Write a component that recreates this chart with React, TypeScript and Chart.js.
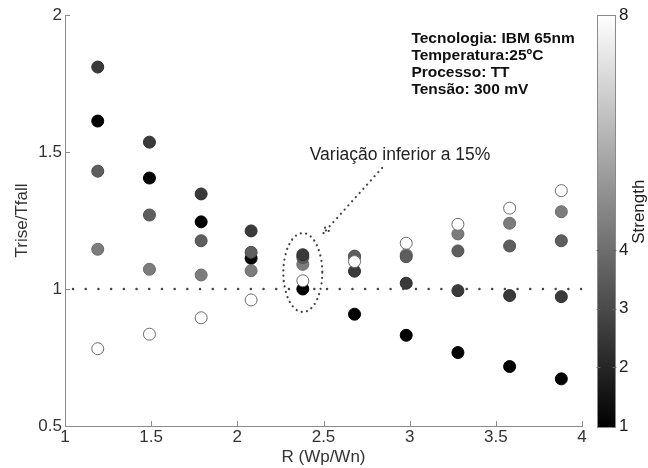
import React, { useEffect, useRef } from "react";
import { Chart, registerables } from "chart.js";

Chart.register(...registerables);

// ---------- data ----------
const rValues = [1.19, 1.49, 1.79, 2.08, 2.38, 2.68, 2.98, 3.28, 3.58, 3.88];
const ratioStrength1 = [1.613, 1.405, 1.245, 1.112, 1.0, 0.908, 0.831, 0.768, 0.717, 0.672];
const ratioStrength2 = [1.81, 1.536, 1.347, 1.212, 1.125, 1.065, 1.021, 0.994, 0.976, 0.972];
const ratioStrength3 = [1.43, 1.27, 1.176, 1.134, 1.115, 1.12, 1.118, 1.139, 1.157, 1.176];
const ratioStrength4 = [1.145, 1.072, 1.051, 1.067, 1.09, 1.115, 1.125, 1.201, 1.24, 1.282];
const ratioStrength8 = [0.782, 0.835, 0.895, 0.96, 1.03, 1.1, 1.167, 1.236, 1.295, 1.359];
const xTicks = [1, 1.5, 2, 2.5, 3, 3.5, 4];
const yTicks = [0.5, 1, 1.5, 2];
const strengthTicks = [1, 2, 3, 4, 8];
const referenceRatio = 1;
const infoLines = ["Tecnologia: IBM 65nm", "Temperatura:25ºC", "Processo: TT", "Tensão: 300 mV"];
const noteText = "Variação inferior a 15%";

const FONT = "'Liberation Sans', Arial, sans-serif";

const strengthColor: Record<number, string> = {
  1: "#000000",
  2: "#3a3a3a",
  3: "#5e5e5e",
  4: "#7c7c7c",
  8: "#ffffff",
};
const strengthBorder: Record<number, string> = {
  1: "#000000",
  2: "#2e2e2e",
  3: "#4e4e4e",
  4: "#6a6a6a",
  8: "#6a6a6a",
};

// draw order (later = on top)
const seriesList: { strength: number; values: number[] }[] = [
  { strength: 8, values: ratioStrength8 },
  { strength: 2, values: ratioStrength2 },
  { strength: 3, values: ratioStrength3 },
  { strength: 4, values: ratioStrength4 },
  { strength: 1, values: ratioStrength1 },
];

const decorPlugin = {
  id: "decor",
  beforeDatasetsDraw(chart: any) {
    const { ctx, chartArea } = chart;
    const xs = chart.scales.x;
    const ys = chart.scales.y;
    ctx.save();
    // inward ticks
    ctx.strokeStyle = "#8a8a8a";
    ctx.lineWidth = 1;
    ctx.beginPath();
    for (const v of xTicks) {
      const px = Math.round(xs.getPixelForValue(v)) + 0.5;
      ctx.moveTo(px, chartArea.bottom);
      ctx.lineTo(px, chartArea.bottom - 5);
    }
    for (const v of yTicks) {
      const py = Math.round(ys.getPixelForValue(v)) + 0.5;
      ctx.moveTo(chartArea.left, py);
      ctx.lineTo(chartArea.left + 5, py);
    }
    ctx.stroke();
    // dotted reference line
    const yRef = ys.getPixelForValue(referenceRatio);
    ctx.strokeStyle = "#444";
    ctx.lineWidth = 2.4;
    ctx.lineCap = "round";
    ctx.setLineDash([0.1, 12.6]);
    ctx.beginPath();
    ctx.moveTo(chartArea.left + 8, yRef);
    ctx.lineTo(xs.getPixelForValue(4.02), yRef);
    ctx.stroke();
    ctx.restore();
  },
  afterDatasetsDraw(chart: any) {
    const { ctx, chartArea } = chart;
    const xs = chart.scales.x;
    const ys = chart.scales.y;
    const cb = chart.scales.cb;
    ctx.save();
    // dotted ellipse around the 2.4 column
    const cx = xs.getPixelForValue(2.38);
    const cy = ys.getPixelForValue(1.06);
    const rx = xs.getPixelForValue(2.38 + 0.113) - cx;
    const ry = cy - ys.getPixelForValue(1.06 + 0.144);
    ctx.strokeStyle = "#444";
    ctx.lineWidth = 2.2;
    ctx.lineCap = "round";
    ctx.setLineDash([0.1, 5.3]);
    ctx.beginPath();
    ctx.ellipse(cx, cy, rx, ry, 0, 0, Math.PI * 2);
    ctx.stroke();
    // dotted arrow
    const ax0 = xs.getPixelForValue(2.84);
    const ay0 = ys.getPixelForValue(1.442);
    const ax1 = xs.getPixelForValue(2.5);
    const ay1 = ys.getPixelForValue(1.204);
    ctx.setLineDash([0.1, 5.5]);
    ctx.beginPath();
    ctx.moveTo(ax0, ay0);
    ctx.lineTo(ax1, ay1);
    const ang = Math.atan2(ay0 - ay1, ax0 - ax1);
    const hl = 11;
    for (const d of [-0.45, 0.45]) {
      ctx.moveTo(ax1, ay1);
      ctx.lineTo(ax1 + hl * Math.cos(ang + d), ay1 + hl * Math.sin(ang + d));
    }
    ctx.stroke();
    ctx.setLineDash([]);
    // note text
    ctx.fillStyle = "#222";
    ctx.font = `17.5px ${FONT}`;
    ctx.textAlign = "center";
    ctx.textBaseline = "middle";
    ctx.fillText(noteText, xs.getPixelForValue(2.944), ys.getPixelForValue(1.489));
    // info text
    ctx.font = `bold 15.5px ${FONT}`;
    ctx.textAlign = "left";
    ctx.fillStyle = "#111";
    const ix = xs.getPixelForValue(3.01);
    const iy = ys.getPixelForValue(1.912);
    infoLines.forEach((t, i) => ctx.fillText(t, ix, iy + i * 16.8));
    // colorbar
    const top = cb.getPixelForValue(8);
    const bottom = cb.getPixelForValue(1) + 2;
    const bx = chartArea.right + 15;
    const bw = 19;
    const g = ctx.createLinearGradient(0, bottom, 0, top);
    g.addColorStop(0, "#000000");
    g.addColorStop(1, "#ffffff");
    ctx.fillStyle = g;
    ctx.fillRect(bx, top, bw, bottom - top);
    ctx.strokeStyle = "#8a8a8a";
    ctx.lineWidth = 1;
    ctx.strokeRect(bx + 0.5, top + 0.5, bw - 1, bottom - top - 1);
    ctx.strokeStyle = "#666";
    ctx.beginPath();
    for (const v of strengthTicks) {
      if (v === 1 || v === 8) continue;
      const py = Math.round(cb.getPixelForValue(v)) + 0.5;
      ctx.moveTo(bx, py);
      ctx.lineTo(bx + 3, py);
      ctx.moveTo(bx + bw, py);
      ctx.lineTo(bx + bw - 3, py);
    }
    ctx.stroke();
    // colorbar title
    ctx.fillStyle = "#222";
    ctx.font = `17px ${FONT}`;
    ctx.translate(chartArea.right + 57, cb.getPixelForValue(4.65));
    ctx.rotate(-Math.PI / 2);
    ctx.textAlign = "center";
    ctx.textBaseline = "middle";
    ctx.fillText("Strength", 0, 0);
    ctx.restore();
  },
};

export default function App() {
  const canvasRef = useRef<HTMLCanvasElement | null>(null);

  useEffect(() => {
    if (!canvasRef.current) return;
    const tickFont = { family: FONT, size: 17 };
    const chart = new Chart(canvasRef.current, {
      type: "scatter",
      data: {
        datasets: seriesList.map((s) => ({
          label: `Strength ${s.strength}`,
          data: rValues.map((x, i) => ({ x, y: s.values[i] })),
          backgroundColor: strengthColor[s.strength],
          borderColor: strengthBorder[s.strength],
          borderWidth: 1,
          pointRadius: 6,
          pointHoverRadius: 6,
        })),
      },
      options: {
        responsive: false,
        animation: false,
        layout: { padding: { top: 15, right: 0, bottom: 0, left: 0 } },
        plugins: {
          legend: { display: false },
          tooltip: { enabled: false },
        },
        scales: {
          x: {
            type: "linear",
            position: "bottom",
            min: 1,
            max: 4,
            afterBuildTicks: (s: any) => {
              s.ticks = xTicks.map((v) => ({ value: v }));
            },
            afterFit: (s: any) => {
              s.height = 42;
            },
            grid: { display: false, drawTicks: false },
            border: { display: true, color: "#8a8a8a", width: 1 },
            ticks: { font: tickFont, color: "#333", padding: 1, maxRotation: 0, callback: (v: any) => String(v) },
            title: { display: true, text: "R (Wp/Wn)", font: tickFont, color: "#333", padding: { top: 0, bottom: 0 } },
          },
          y: {
            type: "linear",
            position: "left",
            min: 0.5,
            max: 2,
            afterBuildTicks: (s: any) => {
              s.ticks = yTicks.map((v) => ({ value: v }));
            },
            afterFit: (s: any) => {
              s.width = 65;
              s.paddingTop = 0;
              s.paddingBottom = 0;
            },
            grid: { display: false, drawTicks: false },
            border: { display: true, color: "#8a8a8a", width: 1 },
            ticks: { font: tickFont, color: "#333", padding: 3, callback: (v: any) => String(v) },
            title: { display: true, text: "Trise/Tfall", font: tickFont, color: "#333", padding: { top: 12, bottom: 0 } },
          },
          cb: {
            type: "linear",
            position: "right",
            min: 1,
            max: 8,
            afterBuildTicks: (s: any) => {
              s.ticks = strengthTicks.map((v) => ({ value: v }));
            },
            afterFit: (s: any) => {
              s.width = 66;
              s.paddingTop = 0;
              s.paddingBottom = 0;
            },
            grid: { display: false, drawTicks: false },
            border: { display: false },
            ticks: { font: tickFont, color: "#222", padding: 37, callback: (v: any) => String(v) },
          },
        },
      },
      plugins: [decorPlugin],
    } as any);
    return () => chart.destroy();
  }, []);

  return (
    <div style={{ position: "absolute", left: 0, top: 0, width: 648, height: 468, background: "#fff" }}>
      <canvas ref={canvasRef} width={648} height={468} style={{ display: "block" }} />
    </div>
  );
}
